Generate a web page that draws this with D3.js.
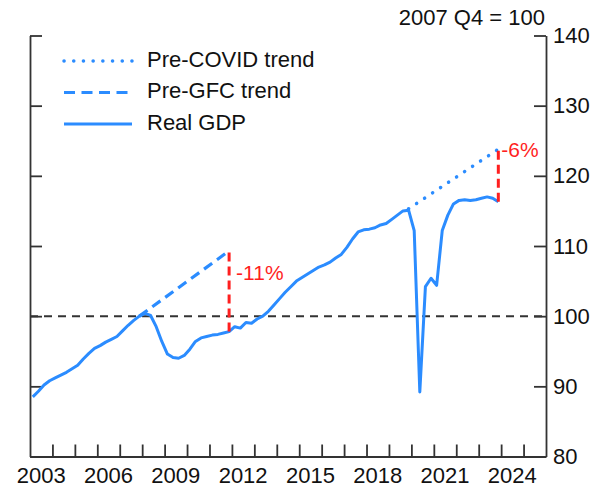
<!DOCTYPE html>
<html>
<head>
<meta charset="utf-8">
<script src="https://cdn.jsdelivr.net/npm/d3@7"></script>
<style>
  body { margin: 0; background: #fff; }
  text { font-family: "Liberation Sans", Arial, sans-serif; fill: #111; }
</style>
</head>
<body>
<svg id="chart" width="597" height="488"></svg>
<script>
// Real GDP, index 2007 Q4 = 100, quarterly from 2003 Q1 to 2023 Q4
const startYear = 2003;
const gdp = [
    88.5, 89.3, 90.2, 90.8,      // 2003
    91.2, 91.6, 92.0, 92.5,      // 2004
    93.0, 93.9, 94.7, 95.4,      // 2005
    95.8, 96.3, 96.7, 97.1,      // 2006
    97.9, 98.7, 99.4, 100.0,     // 2007
    100.4, 100.1, 98.5, 96.4,    // 2008
    94.6, 94.1, 94.0, 94.4,      // 2009
    95.3, 96.4, 96.9, 97.1,      // 2010
    97.3, 97.4, 97.6, 97.8,      // 2011
    98.5, 98.3, 99.1, 99.0,      // 2012
    99.6, 100.0, 100.7, 101.6,   // 2013
    102.5, 103.4, 104.2, 105.0,  // 2014
    105.5, 106.0, 106.5, 107.0,  // 2015
    107.3, 107.7, 108.3, 108.8,  // 2016
    109.8, 111.0, 112.0, 112.3,  // 2017
    112.4, 112.6, 113.0, 113.2,  // 2018
    113.8, 114.4, 115.0, 115.1,  // 2019
    112.2, 89.2, 104.2, 105.4,   // 2020
    104.4, 112.2, 114.4, 116.0,  // 2021
    116.5, 116.6, 116.5, 116.6,  // 2022
    116.8, 117.0, 116.8, 116.3   // 2023
];
const preGfcTrend = [{year: 2007, q: 4, value: 100.0}, {year: 2011, q: 4, value: 109.3}];
const preCovidTrend = [{year: 2019, q: 4, value: 115.3}, {year: 2023, q: 4, value: 123.8}];
const gaps = [
    {year: 2011, q: 4, from: 97.8, to: 109.3, label: "-11%"},
    {year: 2023, q: 4, from: 116.3, to: 123.8, label: "-6%"}
];
const yTicks = [80, 90, 100, 110, 120, 130, 140];
const yearLabels = [2003, 2006, 2009, 2012, 2015, 2018, 2021, 2024];
const legendItems = [
    {name: "Pre-COVID trend", style: "dotted"},
    {name: "Pre-GFC trend", style: "dashed"},
    {name: "Real GDP", style: "solid"}
];

const blue = "#2b8cff";
const red = "#ff1f1f";
const axisColor = "#333";

const toTime = (year, q) => year + (q - 1) / 4 + 0.125;
const series = gdp.map((v, i) => ({
    t: toTime(startYear + Math.floor(i / 4), (i % 4) + 1),
    value: v
}));

const svg = d3.select("#chart");
const x = d3.scaleLinear().domain([2003, 2026]).range([30, 546]);
const y = d3.scaleLinear().domain([80, 140]).range([456.5, 35.5]);

// axes
const styleAxis = g => {
    g.select(".domain").attr("stroke", axisColor).attr("stroke-width", 1.8);
    g.selectAll(".tick line").attr("stroke", axisColor).attr("stroke-width", 1.8);
};

svg.append("g")
    .attr("transform", `translate(${x.range()[0]},0)`)
    .call(d3.axisLeft(y).tickValues(yTicks).tickSize(-12).tickSizeOuter(0).tickFormat(""))
    .call(styleAxis);

svg.append("g")
    .attr("transform", `translate(${x.range()[1]},0)`)
    .call(d3.axisRight(y).tickValues(yTicks).tickSize(-12).tickSizeOuter(0).tickPadding(7))
    .call(styleAxis)
    .call(g => g.selectAll(".tick text")
        .attr("font-size", 22)
        .attr("font-family", "Liberation Sans, Arial, sans-serif")
        .attr("fill", "#111"));

svg.append("g")
    .attr("transform", `translate(0,${y.range()[0]})`)
    .call(d3.axisBottom(x).tickValues(d3.range(2004, 2026)).tickSize(-12).tickSizeOuter(0).tickFormat(""))
    .call(styleAxis);

svg.append("g")
    .selectAll("text")
    .data(yearLabels)
    .join("text")
    .attr("x", d => x(d + 0.5))
    .attr("y", 483)
    .attr("text-anchor", "middle")
    .attr("font-size", 22)
    .text(d => d);

svg.append("text")
    .attr("x", 545)
    .attr("y", 25)
    .attr("text-anchor", "end")
    .attr("font-size", 22)
    .text("2007 Q4 = 100");

// base line at 100
svg.append("line")
    .attr("x1", x(2003)).attr("x2", x(2026))
    .attr("y1", y(100)).attr("y2", y(100))
    .attr("stroke", axisColor)
    .attr("stroke-width", 2)
    .attr("stroke-dasharray", "8,6");

const line = d3.line().x(d => x(d.t)).y(d => y(d.value));
const trendPts = arr => arr.map(d => ({t: toTime(d.year, d.q), value: d.value}));

svg.append("path")
    .attr("d", line(trendPts(preGfcTrend)))
    .attr("fill", "none")
    .attr("stroke", blue)
    .attr("stroke-width", 3.2)
    .attr("stroke-dasharray", "10,6");

svg.append("path")
    .attr("d", line(trendPts(preCovidTrend)))
    .attr("fill", "none")
    .attr("stroke", blue)
    .attr("stroke-width", 3.5)
    .attr("stroke-linecap", "round")
    .attr("stroke-dasharray", "0.1,9.5");

svg.append("path")
    .datum(series)
    .attr("d", line)
    .attr("fill", "none")
    .attr("stroke", blue)
    .attr("stroke-width", 3)
    .attr("stroke-linejoin", "round");

// gap markers
const gapG = svg.append("g");
gapG.selectAll("line")
    .data(gaps)
    .join("line")
    .attr("x1", d => x(toTime(d.year, d.q)))
    .attr("x2", d => x(toTime(d.year, d.q)))
    .attr("y1", d => y(d.from))
    .attr("y2", d => y(d.to))
    .attr("stroke", red)
    .attr("stroke-width", 3)
    .attr("stroke-dasharray", "9,5");

gapG.selectAll("text")
    .data(gaps)
    .join("text")
    .attr("x", (d, i) => x(toTime(d.year, d.q)) + (i === 0 ? 7 : 3))
    .attr("y", (d, i) => y(d.to) + (i === 0 ? 24 : 2))
    .attr("dominant-baseline", "middle")
    .attr("font-size", 21)
    .style("fill", red)
    .text(d => d.label);

// legend
const legend = svg.append("g");
const rows = legend.selectAll("g")
    .data(legendItems)
    .join("g")
    .attr("transform", (d, i) => `translate(0,${61 + i * 31.5})`);

rows.append("line")
    .attr("x1", 64).attr("x2", 132)
    .attr("stroke", blue)
    .attr("stroke-width", d => d.style === "dotted" ? 3.5 : 3.2)
    .attr("stroke-linecap", d => d.style === "dotted" ? "round" : "butt")
    .attr("stroke-dasharray", d => d.style === "dotted" ? "0.1,9.6" : d.style === "dashed" ? "11,6.5" : null);

rows.append("text")
    .attr("x", 147)
    .attr("dominant-baseline", "middle")
    .attr("font-size", 22)
    .text(d => d.name);
</script>
</body>
</html>
